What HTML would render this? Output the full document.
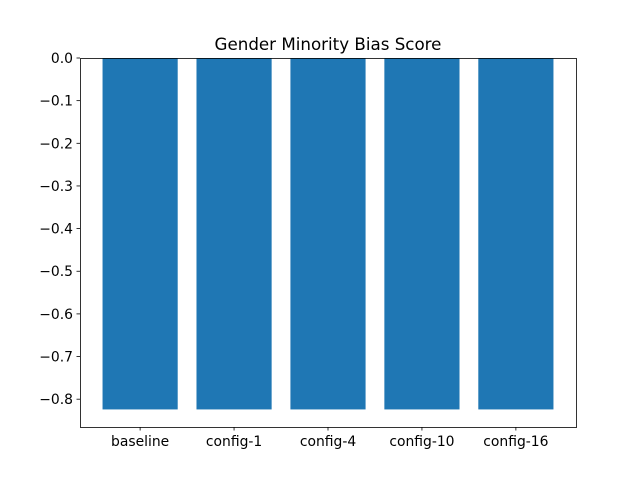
<!DOCTYPE html>
<html><head><meta charset="utf-8"><style>body{margin:0;background:#fff}svg{display:block}text{font-family:"DejaVu Sans","Liberation Sans",sans-serif;font-size:13.9px;fill:#000}</style></head>
<body>
<svg id="chart" width="640" height="480">
<text x="328" y="50" text-anchor="middle" style="font-size:16.7px">Gender Minority Bias Score</text>
<g id="bars"></g><g id="ticks"></g>
<rect x="80.5" y="58.5" width="496" height="369" fill="none" stroke="#000" stroke-width="0.8"/>
</svg>
<script>
const categories=["baseline","config-1","config-4","config-10","config-16"];
const values=[-0.824,-0.824,-0.824,-0.824,-0.824];
const yTicks=[0,-0.1,-0.2,-0.3,-0.4,-0.5,-0.6,-0.7,-0.8];
const L=80,R=576,T=58,B=427;
const ymin=Math.min(0,...values)*1.05, ymax=0;
const n=categories.length;
const xmin=-0.4-0.05*(n-1+0.8), xmax=n-1+0.4+0.05*(n-1+0.8);
function sx(v){return L+(v-xmin)/(xmax-xmin)*(R-L);}
function sy(v){return T+(ymax-v)/(ymax-ymin)*(B-T);}
const NS="http://www.w3.org/2000/svg";
const bars=document.getElementById('bars'),ticks=document.getElementById('ticks');
function mk(tag,attrs,parent){const e=document.createElementNS(NS,tag);for(const k in attrs)e.setAttribute(k,attrs[k]);parent.appendChild(e);return e;}
categories.forEach((c,i)=>{
 const x0=sx(i-0.4),x1=sx(i+0.4),y0=sy(0),y1=sy(values[i]);
 const r=mk('rect',{x:x0,y:Math.min(y0,y1),width:x1-x0,height:Math.abs(y1-y0),fill:'#1f77b4'},bars);
 
 
 const xc=sx(i);
 mk('line',{x1:xc,x2:xc,y1:B,y2:B+3.5,stroke:'#000','stroke-width':0.8},ticks);
 const t=mk('text',{x:xc,y:B+19,'text-anchor':'middle'},ticks);t.textContent=c;
 
 
});
yTicks.forEach(v=>{
 const y=sy(v);
 mk('line',{x1:L-3.5,x2:L,y1:y,y2:y,stroke:'#000','stroke-width':0.8},ticks);
 const t=mk('text',{x:L-7,y:y+5,'text-anchor':'end'},ticks);t.textContent=(v===0?'0.0':'\u2212'+Math.abs(v).toFixed(1));
 
 
});
</script>
</body></html>
